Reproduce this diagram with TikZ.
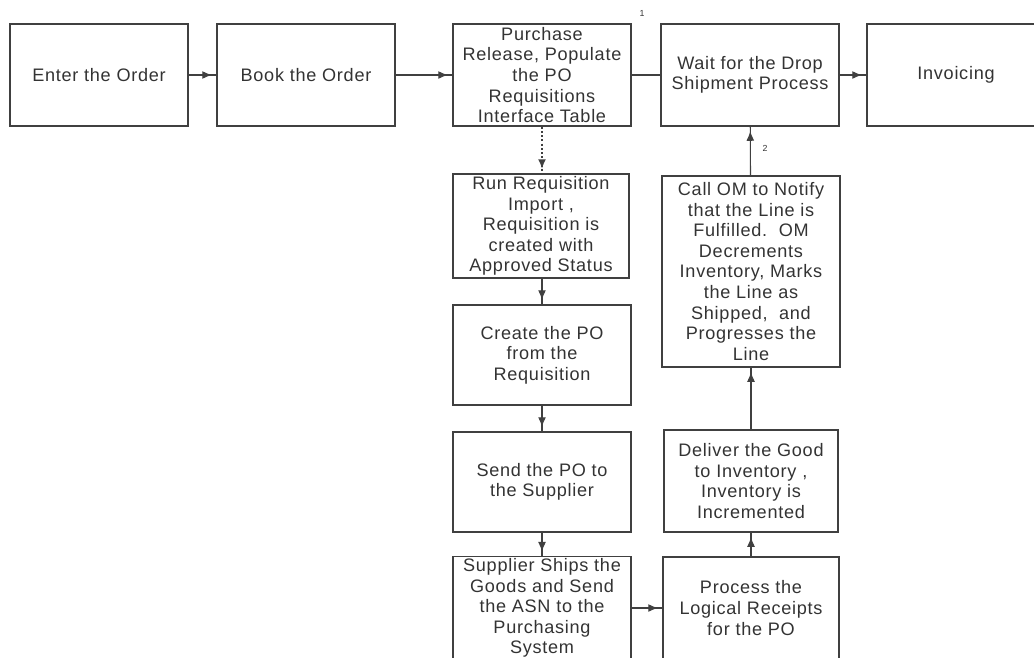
\documentclass[tikz,border=0pt]{standalone}
\usepackage{fontspec}
\setmainfont{Liberation Sans}[LetterSpace=4]
\usetikzlibrary{arrows.meta, decorations.markings}

\tikzset{
  stepbox/.style={draw=black!75, line width=0.8pt, align=center, text=black!80,
    font=\fontsize{10.3}{11.7}\selectfont, minimum width=3.56cm, minimum height=2.04cm,
    inner sep=1pt},
  flow/.style={draw=black!75, line width=0.6pt, postaction={decorate},
    decoration={markings, mark=at position -2.5pt with {\arrow{Latex[length=5.5pt,width=4.5pt]}}}},
  tag/.style={font=\fontsize{5}{6}\selectfont, text=black!80}
}

\begin{document}
\begin{tikzpicture}[x=0.02cm, y=-0.02cm]
\useasboundingbox (0,0) rectangle (1034,657);
% top row
\node[stepbox] (enter) at (99,75) {Enter the Order};
\node[stepbox] (book) at (306,75) {Book the Order};
\node[stepbox] (purchase) at (542,75) {Purchase\\Release, Populate\\the PO\\Requisitions\\Interface Table};
\node[stepbox] (wait) at (750,75) {Wait for the Drop\\Shipment Process};
\node[stepbox] (invoicing) at (956,75) {Invoicing};
% purchasing column
\node[stepbox, minimum width=3.52cm, minimum height=2.08cm] (run) at (541,226) {Run Requisition\\Import ,\\Requisition is\\created with\\Approved Status};
\node[stepbox, minimum height=2cm] (create) at (542,355) {Create the PO\\from the\\Requisition};
\node[stepbox, minimum height=2cm] (send) at (542,482) {Send the PO to\\the Supplier};
\node[stepbox] (supplier) at (542,608) {Supplier Ships the\\Goods and Send\\the ASN to the\\Purchasing\\System};
% receiving column
\node[stepbox, minimum width=3.52cm] (process) at (751,608) {Process the\\Logical Receipts\\for the PO};
\node[stepbox, minimum width=3.48cm] (deliver) at (751,481) {Deliver the Good\\to Inventory ,\\Inventory is\\Incremented};
\node[stepbox, minimum height=3.82cm] (callom) at (751,271.5) {Call OM to Notify\\that the Line is\\Fulfilled.\ \ OM\\Decrements\\Inventory, Marks\\the Line as\\Shipped,\ \ and\\Progresses the\\Line};
% connectors
\draw[flow] (enter) -- (book);
\draw[flow] (book) -- (purchase);
\draw[draw=black!75, line width=0.6pt] (purchase) -- (wait);
\draw[flow] (wait) -- (invoicing);
\draw[flow, dash pattern=on 1.2pt off 1.2pt, line width=0.9pt] (purchase.south) -- (purchase.south |- run.north);
\draw[flow] (run.south -| create.north) -- (create.north);
\draw[flow] (create) -- (send);
\draw[flow] (send) -- (supplier);
\draw[flow] (supplier) -- (process);
\draw[flow] (process) -- (deliver);
\draw[flow] (deliver) -- (callom);
\draw[flow] (callom) -- (wait);
% labels
\node[tag] (one) at (642,13) {1};
\node[tag] (two) at (765,148) {2};
\end{tikzpicture}
\end{document}
